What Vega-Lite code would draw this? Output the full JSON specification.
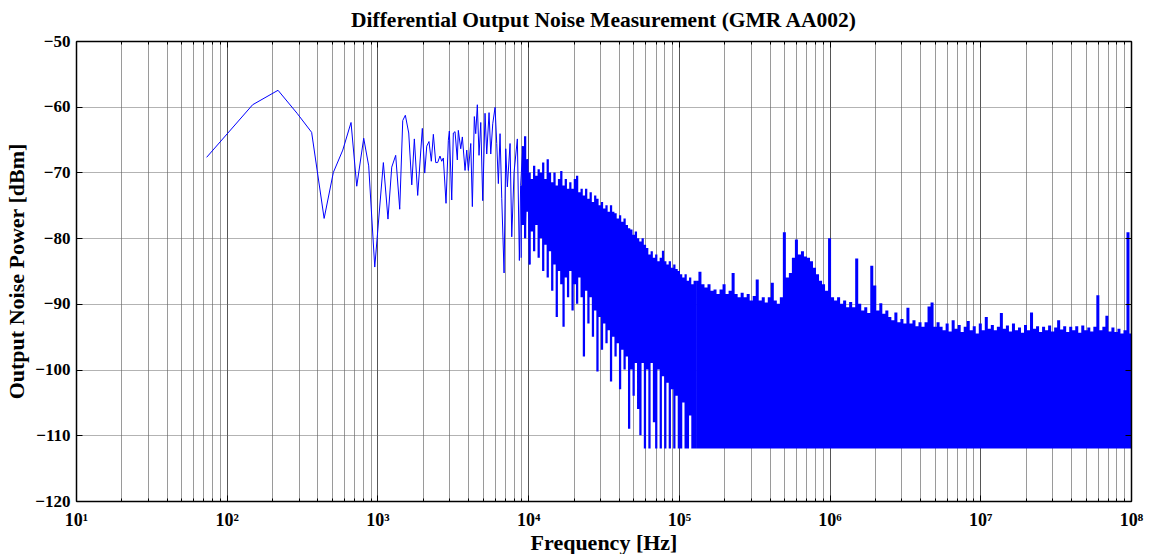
{
"$schema": "https://vega.github.io/schema/vega-lite/v6.json",
"width": 1055,
"height": 460,
"autosize": {"type": "none"},
"padding": {"left": 76, "top": 41, "right": 19, "bottom": 53},
"background": "white",
"title": {"text": "Differential Output Noise Measurement (GMR AA002)", "font": "Liberation Serif", "fontSize": 21.5, "fontWeight": "bold", "color": "black", "offset": 1, "anchor": "middle"},
"config": {"view": {"stroke": null}},
"datasets": {
"low": [
{"f":73.6,"p":-67.7},{"f":148.6,"p":-59.7},{"f":219,"p":-57.5},{"f":293,"p":-61.0},{"f":366,"p":-63.9},{"f":443,"p":-77.0},{"f":510,"p":-70.0},{"f":589,"p":-66.6},{"f":668,"p":-62.4},{"f":729,"p":-72.1},{"f":811,"p":-64.8},{"f":875,"p":-69.0},{"f":960,"p":-84.4},{"f":1095,"p":-68.5},{"f":1175,"p":-77.1},{"f":1244,"p":-69.2},{"f":1322,"p":-67.4},{"f":1406,"p":-75.6},{"f":1472,"p":-62.1},{"f":1532,"p":-61.3},{"f":1613,"p":-64.0},{"f":1690,"p":-71.9},{"f":1758,"p":-64.9},{"f":1850,"p":-73.5},{"f":1986,"p":-63.3},{"f":2060,"p":-70.1},{"f":2124,"p":-66.0},{"f":2198,"p":-65.3},{"f":2278,"p":-68.3},{"f":2350,"p":-64.2},{"f":2437,"p":-68.5},{"f":2510,"p":-68.5},{"f":2600,"p":-67.5},{"f":2671,"p":-68.3},{"f":2737,"p":-67.8},{"f":2852,"p":-74.7},{"f":2955,"p":-65.1},{"f":3001,"p":-63.7},{"f":3112,"p":-74.2},{"f":3189,"p":-64.0},{"f":3273,"p":-63.8},{"f":3389,"p":-68.1},{"f":3441,"p":-63.6},{"f":3571,"p":-66.4},{"f":3660,"p":-64.6},{"f":3813,"p":-69.7},{"f":3914,"p":-66.6},{"f":4011,"p":-69.7},{"f":4161,"p":-65.6},{"f":4264,"p":-75.2},{"f":4395,"p":-61.5},{"f":4490,"p":-64.1},{"f":4601,"p":-59.7},{"f":4722,"p":-67.4},{"f":4848,"p":-62.4},{"f":4997,"p":-74.3},{"f":5176,"p":-61.0},{"f":5313,"p":-67.2},{"f":5503,"p":-60.9},{"f":5648,"p":-67.2},{"f":5823,"p":-62.6},{"f":6032,"p":-60.1},{"f":6190,"p":-65.6},{"f":6344,"p":-71.7},{"f":6511,"p":-64.1},{"f":6682,"p":-74.0},{"f":6922,"p":-85.3},{"f":7104,"p":-66.4},{"f":7278,"p":-72.2},{"f":7585,"p":-65.6},{"f":7785,"p":-79.8},{"f":8064,"p":-70.0},{"f":8480,"p":-64.9},{"f":8746,"p":-83.4},{"f":8913,"p":-72.0},{"f":9226,"p":-66.0},{"f":9550,"p":-80.0},{"f":9886,"p":-68.0},{"f":10230,"p":-84.0}
],
"mid": [
{"f":8913,"hi":-72,"lo":-83},{"f":9226,"hi":-66,"lo":-78},{"f":9550,"hi":-64.5,"lo":-80},{"f":9886,"hi":-68,"lo":-76},{"f":10230,"hi":-70,"lo":-84},{"f":10590,"hi":-71,"lo":-79},{"f":10960,"hi":-69,"lo":-82},{"f":11350,"hi":-70.5,"lo":-78},{"f":11750,"hi":-69.5,"lo":-83},{"f":12160,"hi":-70,"lo":-80},{"f":12590,"hi":-68.5,"lo":-85},{"f":13030,"hi":-71,"lo":-81},{"f":13490,"hi":-68,"lo":-86},{"f":13960,"hi":-70,"lo":-82},{"f":14450,"hi":-71.5,"lo":-88},{"f":14960,"hi":-70,"lo":-84},{"f":15490,"hi":-72,"lo":-92},{"f":16030,"hi":-71,"lo":-85},{"f":16600,"hi":-69.8,"lo":-87},{"f":17180,"hi":-72,"lo":-93.5},{"f":17780,"hi":-71,"lo":-86},{"f":18410,"hi":-72.5,"lo":-89},{"f":19050,"hi":-71.5,"lo":-85},{"f":19720,"hi":-72.5,"lo":-91},{"f":20420,"hi":-71,"lo":-87},{"f":21130,"hi":-70.5,"lo":-90},{"f":21880,"hi":-73,"lo":-86},{"f":22650,"hi":-72.5,"lo":-89},{"f":23440,"hi":-73.5,"lo":-98},{"f":24270,"hi":-72.5,"lo":-88},{"f":25120,"hi":-74,"lo":-93},{"f":26000,"hi":-73,"lo":-89},{"f":26920,"hi":-74.5,"lo":-95},{"f":27860,"hi":-73.5,"lo":-91},{"f":28840,"hi":-74,"lo":-100.3},{"f":29850,"hi":-75,"lo":-92},{"f":30900,"hi":-74.5,"lo":-97},{"f":31990,"hi":-75.5,"lo":-93},{"f":33110,"hi":-75,"lo":-96},{"f":34280,"hi":-76,"lo":-94},{"f":35480,"hi":-75,"lo":-101.8},{"f":36730,"hi":-76,"lo":-95},{"f":38020,"hi":-76.2,"lo":-98},{"f":39360,"hi":-77,"lo":-96},{"f":40740,"hi":-76.5,"lo":-103},{"f":42170,"hi":-77.5,"lo":-97},{"f":43650,"hi":-77,"lo":-100},{"f":45190,"hi":-78,"lo":-98},{"f":46770,"hi":-78.5,"lo":-109},{"f":48420,"hi":-78.7,"lo":-100},{"f":50120,"hi":-79.5,"lo":-104},{"f":51880,"hi":-79,"lo":-99},{"f":53700,"hi":-80,"lo":-106},{"f":55590,"hi":-80.5,"lo":-110},{"f":57540,"hi":-80,"lo":-99},{"f":59570,"hi":-81,"lo":-112},{"f":61660,"hi":-81.5,"lo":-100},{"f":63830,"hi":-82.5,"lo":-112},{"f":66070,"hi":-82,"lo":-99},{"f":68390,"hi":-83,"lo":-108},{"f":70790,"hi":-82.5,"lo":-112},{"f":73280,"hi":-83.5,"lo":-100},{"f":75860,"hi":-83,"lo":-112},{"f":78520,"hi":-81.9,"lo":-101},{"f":81280,"hi":-83.5,"lo":-112},{"f":84140,"hi":-84,"lo":-102},{"f":87100,"hi":-83.5,"lo":-112},{"f":90160,"hi":-84.5,"lo":-103},{"f":93330,"hi":-84,"lo":-112},{"f":96610,"hi":-84.7,"lo":-104},{"f":100000,"hi":-85,"lo":-112},{"f":103500,"hi":-85.5,"lo":-112},{"f":107200,"hi":-86,"lo":-105},{"f":110900,"hi":-85.5,"lo":-112},{"f":114800,"hi":-86.5,"lo":-112},{"f":118900,"hi":-86,"lo":-107},{"f":123000,"hi":-87,"lo":-112},{"f":127400,"hi":-86.5,"lo":-112},{"f":131800,"hi":-86.5,"lo":-112}
],
"high": [
{"f":1.318e5,"p":-86.5},{"f":1.380e5,"p":-85.1},{"f":1.445e5,"p":-87},{"f":1.514e5,"p":-87.5},{"f":1.585e5,"p":-87},{"f":1.660e5,"p":-88},{"f":1.738e5,"p":-87.8},{"f":1.820e5,"p":-88.5},{"f":1.905e5,"p":-87.8},{"f":1.995e5,"p":-87},{"f":2.089e5,"p":-88.5},{"f":2.188e5,"p":-88},{"f":2.291e5,"p":-85.3},{"f":2.399e5,"p":-88.5},{"f":2.512e5,"p":-89},{"f":2.630e5,"p":-88.3},{"f":2.754e5,"p":-89},{"f":2.884e5,"p":-88.5},{"f":3.020e5,"p":-89.5},{"f":3.162e5,"p":-88.8},{"f":3.311e5,"p":-86.3},{"f":3.467e5,"p":-89.5},{"f":3.631e5,"p":-89},{"f":3.802e5,"p":-89.8},{"f":3.981e5,"p":-89},{"f":4.169e5,"p":-86.8},{"f":4.365e5,"p":-89.5},{"f":4.571e5,"p":-90},{"f":4.786e5,"p":-89},{"f":5.012e5,"p":-79.1},{"f":5.248e5,"p":-86},{"f":5.495e5,"p":-85.3},{"f":5.754e5,"p":-83},{"f":6.026e5,"p":-80.2},{"f":6.310e5,"p":-82.5},{"f":6.607e5,"p":-82},{"f":6.918e5,"p":-82.8},{"f":7.244e5,"p":-83},{"f":7.586e5,"p":-83.5},{"f":7.943e5,"p":-84.5},{"f":8.318e5,"p":-85.5},{"f":8.710e5,"p":-86.5},{"f":9.120e5,"p":-87},{"f":9.550e5,"p":-88},
{"f":1.000e6,"p":-80},{"f":1.047e6,"p":-89},{"f":1.096e6,"p":-89.5},{"f":1.148e6,"p":-89},{"f":1.202e6,"p":-90},{"f":1.259e6,"p":-89.5},{"f":1.318e6,"p":-90.5},{"f":1.380e6,"p":-89.7},{"f":1.445e6,"p":-90.5},{"f":1.514e6,"p":-83.1},{"f":1.585e6,"p":-90},{"f":1.660e6,"p":-91},{"f":1.738e6,"p":-90.5},{"f":1.820e6,"p":-91.4},{"f":1.905e6,"p":-84.2},{"f":1.995e6,"p":-87.2},{"f":2.089e6,"p":-91},{"f":2.188e6,"p":-89.9},{"f":2.291e6,"p":-91.5},{"f":2.399e6,"p":-91},{"f":2.512e6,"p":-92},{"f":2.630e6,"p":-92.5},{"f":2.754e6,"p":-91.3},{"f":2.884e6,"p":-92.8},{"f":3.020e6,"p":-92.3},{"f":3.162e6,"p":-93},{"f":3.311e6,"p":-90.6},{"f":3.467e6,"p":-93},{"f":3.631e6,"p":-92.5},{"f":3.802e6,"p":-93.4},{"f":3.981e6,"p":-92.8},{"f":4.169e6,"p":-93.5},{"f":4.365e6,"p":-92.8},{"f":4.571e6,"p":-90.4},{"f":4.786e6,"p":-89.8},{"f":5.012e6,"p":-93.5},{"f":5.248e6,"p":-92.8},{"f":5.495e6,"p":-93.5},{"f":5.754e6,"p":-94},{"f":6.026e6,"p":-93},{"f":6.310e6,"p":-94.2},{"f":6.607e6,"p":-92.5},{"f":6.918e6,"p":-93.8},{"f":7.244e6,"p":-93.2},{"f":7.586e6,"p":-94.3},{"f":7.943e6,"p":-93.5},{"f":8.318e6,"p":-92.6},{"f":8.710e6,"p":-94},{"f":9.120e6,"p":-93.4},{"f":9.550e6,"p":-94.5},
{"f":1.000e7,"p":-93},{"f":1.047e7,"p":-94},{"f":1.096e7,"p":-92},{"f":1.148e7,"p":-93.8},{"f":1.202e7,"p":-93.2},{"f":1.259e7,"p":-94},{"f":1.318e7,"p":-93.5},{"f":1.380e7,"p":-91.4},{"f":1.445e7,"p":-93.8},{"f":1.514e7,"p":-93.3},{"f":1.585e7,"p":-94.2},{"f":1.660e7,"p":-93},{"f":1.738e7,"p":-94},{"f":1.820e7,"p":-93.6},{"f":1.905e7,"p":-94.4},{"f":1.995e7,"p":-93.2},{"f":2.089e7,"p":-94},{"f":2.188e7,"p":-91.3},{"f":2.291e7,"p":-93.8},{"f":2.399e7,"p":-93.4},{"f":2.512e7,"p":-94.3},{"f":2.630e7,"p":-93.5},{"f":2.754e7,"p":-94},{"f":2.884e7,"p":-93.3},{"f":3.020e7,"p":-94.2},{"f":3.162e7,"p":-93.6},{"f":3.311e7,"p":-92.5},{"f":3.467e7,"p":-93.9},{"f":3.631e7,"p":-93.4},{"f":3.802e7,"p":-94.3},{"f":3.981e7,"p":-93.5},{"f":4.169e7,"p":-94},{"f":4.365e7,"p":-93.4},{"f":4.571e7,"p":-94.4},{"f":4.786e7,"p":-93.3},{"f":5.012e7,"p":-94},{"f":5.248e7,"p":-93.6},{"f":5.495e7,"p":-94.2},{"f":5.754e7,"p":-93.5},{"f":6.026e7,"p":-88.7},{"f":6.310e7,"p":-94},{"f":6.607e7,"p":-93.5},{"f":6.918e7,"p":-91.8},{"f":7.244e7,"p":-94.2},{"f":7.586e7,"p":-93.6},{"f":7.943e7,"p":-94.3},{"f":8.318e7,"p":-93.8},{"f":8.710e7,"p":-94.5},{"f":9.120e7,"p":-94},{"f":9.550e7,"p":-79.1},{"f":1.000e8,"p":-94.5}
]
},
"layer": [
{
"data": {"name": "low"},
"mark": {"type": "line", "color": "#0000ff", "strokeWidth": 1, "clip": true},
"encoding": {
"x": {"field": "f", "type": "quantitative", "scale": {"type": "log", "domain": [10, 100000000], "nice": false},
"axis": {"orient": "bottom", "values": [1e1,2e1,3e1,4e1,5e1,6e1,7e1,8e1,9e1,1e2,2e2,3e2,4e2,5e2,6e2,7e2,8e2,9e2,1e3,2e3,3e3,4e3,5e3,6e3,7e3,8e3,9e3,1e4,2e4,3e4,4e4,5e4,6e4,7e4,8e4,9e4,1e5,2e5,3e5,4e5,5e5,6e5,7e5,8e5,9e5,1e6,2e6,3e6,4e6,5e6,6e6,7e6,8e6,9e6,1e7,2e7,3e7,4e7,5e7,6e7,7e7,8e7,9e7,1e8],
"labelExpr": "abs(datum.value/pow(10, round(log(datum.value)/LN10)) - 1) < 1e-6 ? '10' + ['⁰','¹','²','³','⁴','⁵','⁶','⁷','⁸'][round(log(datum.value)/LN10)] : ''",
"labelFont": "Liberation Serif", "labelFontSize": 18, "labelFontWeight": "bold", "labelColor": "black", "labelPadding": 16, "labelOverlap": false, "labelFlush": false,
"ticks": true, "tickColor": "black", "tickWidth": 1,
"tickSize": {"condition": {"test": "abs(datum.value/pow(10, round(log(datum.value)/LN10)) - 1) < 1e-6", "value": -6}, "value": -3},
"grid": true, "gridWidth": 1,
"gridColor": {"condition": {"test": "abs(datum.value/pow(10, round(log(datum.value)/LN10)) - 1) < 1e-6", "value": "#555555"}, "value": "#9a9a9a"},
"domain": true, "domainColor": "black", "domainWidth": 1.5,
"title": "Frequency [Hz]", "titleFont": "Liberation Serif", "titleFontSize": 22, "titleFontWeight": "bold", "titleColor": "black", "titlePadding": 0}},
"y": {"field": "p", "type": "quantitative", "scale": {"domain": [-120, -50], "nice": false, "zero": false},
"axis": {"orient": "left", "values": [-120,-110,-100,-90,-80,-70,-60,-50],
"labelFont": "Liberation Serif", "labelFontSize": 17, "labelFontWeight": "bold", "labelColor": "black", "labelPadding": 12, "labelOverlap": false, "labelFlush": false,
"ticks": true, "tickColor": "black", "tickSize": -6, "tickWidth": 1,
"grid": true, "gridColor": "#666666", "gridWidth": 1, "gridDash": [1, 1],
"domain": true, "domainColor": "black", "domainWidth": 1.5,
"title": "Output Noise Power [dBm]", "titleFont": "Liberation Serif", "titleFontSize": 22, "titleFontWeight": "bold", "titleColor": "black", "titlePadding": 6}}
}
},
{
"data": {"name": "mid"},
"mark": {"type": "area", "color": "#0000ff", "interpolate": "step", "clip": true},
"encoding": {
"x": {"field": "f", "type": "quantitative", "axis": null},
"y": {"field": "hi", "type": "quantitative", "axis": null},
"y2": {"field": "lo"}
}
},
{
"data": {"name": "high"},
"mark": {"type": "area", "color": "#0000ff", "interpolate": "step", "clip": true},
"encoding": {
"x": {"field": "f", "type": "quantitative",
"axis": {"orient": "top", "values": [1e1,2e1,3e1,4e1,5e1,6e1,7e1,8e1,9e1,1e2,2e2,3e2,4e2,5e2,6e2,7e2,8e2,9e2,1e3,2e3,3e3,4e3,5e3,6e3,7e3,8e3,9e3,1e4,2e4,3e4,4e4,5e4,6e4,7e4,8e4,9e4,1e5,2e5,3e5,4e5,5e5,6e5,7e5,8e5,9e5,1e6,2e6,3e6,4e6,5e6,6e6,7e6,8e6,9e6,1e7,2e7,3e7,4e7,5e7,6e7,7e7,8e7,9e7,1e8],
"labels": false, "grid": false, "title": null, "zindex": 1,
"ticks": true, "tickColor": "black", "tickWidth": 1,
"tickSize": {"condition": {"test": "abs(datum.value/pow(10, round(log(datum.value)/LN10)) - 1) < 1e-6", "value": -6}, "value": -3},
"domain": true, "domainColor": "black", "domainWidth": 1.5}},
"y": {"field": "p", "type": "quantitative",
"axis": {"orient": "right", "values": [-120,-110,-100,-90,-80,-70,-60,-50], "labels": false, "grid": false, "title": null, "zindex": 1,
"ticks": true, "tickColor": "black", "tickSize": -6, "tickWidth": 1,
"domain": true, "domainColor": "black", "domainWidth": 1.5}},
"y2": {"datum": -112}
}
}
],
"resolve": {"axis": {"x": "independent", "y": "independent"}}
}
